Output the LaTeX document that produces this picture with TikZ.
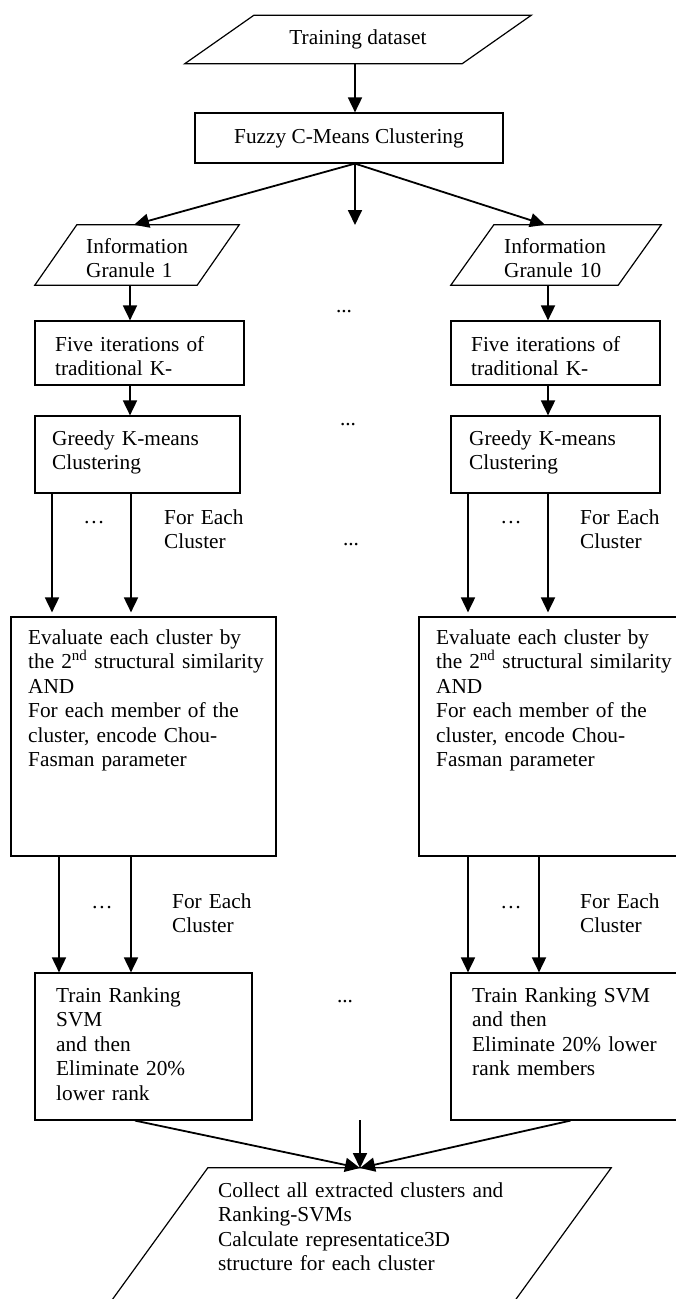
\documentclass[tikz,border=0pt]{standalone}
\usepackage{fontspec}
\setmainfont{Liberation Serif}
\usetikzlibrary{arrows.meta,calc}
\begin{document}
\begin{tikzpicture}[x=1pt,y=-1pt,
  font=\fontsize{21.3}{24.5}\selectfont,
  box/.style={draw, line width=1.2pt, rectangle, inner sep=0pt},
  para/.style={rectangle, inner sep=0pt},
  txt/.style={anchor=base west, align=left, inner sep=0pt, text width=320pt},
  ctr/.style={inner sep=0pt},
  arr/.style={line width=1.8pt, -{Triangle[length=15pt,width=14pt]}},
  ln/.style={line width=1.2pt},
]
\useasboundingbox (0,0) rectangle (676,1299);
\clip (0,0) rectangle (676,1299);

% x positions of connectors
\coordinate (xc) at (355,0);
\coordinate (xa) at (130,0);
\coordinate (xb) at (548,0);
\coordinate (xl1) at (52,0);
\coordinate (xl2) at (131,0);
\coordinate (xr1) at (468,0);
\coordinate (xr2) at (548,0);
\coordinate (xm1) at (59,0);
\coordinate (xm2) at (131,0);
\coordinate (xn1) at (468,0);
\coordinate (xn2) at (539,0);

% Training dataset
\node[para, minimum width=277pt, minimum height=48pt] (td) at (358,39.5) {Training dataset};
\draw[ln] ([xshift=34.5pt]td.north west) -- ([xshift=34.5pt]td.north east)
  -- ([xshift=-34.5pt]td.south east) -- ([xshift=-34.5pt]td.south west) -- cycle;

% Fuzzy C-Means
\node[box, minimum width=308pt, minimum height=50pt] (fcm) at (349,138) {Fuzzy C-Means Clustering};
\draw[arr] (td.south -| xc) -- (fcm.north -| xc);

% Information granules
\node[para, minimum width=162pt, minimum height=60pt] (ig1) at (137,255) {};
\draw[ln] ([xshift=21pt]ig1.north west) -- ([xshift=21pt]ig1.north east)
  -- ([xshift=-21pt]ig1.south east) -- ([xshift=-21pt]ig1.south west) -- cycle;
\node[txt] (ig1t) at (86,253) {Information\\Granule 1};

\node[para, minimum width=167pt, minimum height=60pt] (ig10) at (556,255) {};
\draw[ln] ([xshift=21.5pt]ig10.north west) -- ([xshift=21.5pt]ig10.north east)
  -- ([xshift=-21.5pt]ig10.south east) -- ([xshift=-21.5pt]ig10.south west) -- cycle;
\node[txt] (ig10t) at (504,253) {Information\\Granule 10};

\coordinate (mid) at (355,225);
\draw[arr] (fcm.south -| xc) -- ([xshift=-3pt]ig1.north);
\draw[arr] (fcm.south -| xc) -- (mid);
\draw[arr] (fcm.south -| xc) -- ([xshift=-11pt]ig10.north);

% Five iterations
\node[box, minimum width=209pt, minimum height=64pt] (fl) at (139.5,353) {};
\node[txt] (flt) at (55,351) {Five iterations of\\traditional K-};
\node[box, minimum width=209pt, minimum height=64pt] (fr) at (555.5,353) {};
\node[txt] (frt) at (471,351) {Five iterations of\\traditional K-};
\draw[arr] (ig1.south -| xa) -- (fl.north -| xa);
\draw[arr] (ig10.south -| xb) -- (fr.north -| xb);
\node[ctr] (d1) at (344,312) {...};

% Greedy
\node[box, minimum width=205pt, minimum height=77pt] (gl) at (137.5,454.5) {};
\node[txt] (glt) at (52,445) {Greedy K-means\\Clustering};
\node[box, minimum width=209pt, minimum height=77pt] (gr) at (555.5,454.5) {};
\node[txt] (grt) at (469,445) {Greedy K-means\\Clustering};
\draw[arr] (fl.south -| xa) -- (gl.north -| xa);
\draw[arr] (fr.south -| xb) -- (gr.north -| xb);
\node[ctr] (d2) at (348,425) {...};

% Evaluate
\node[box, minimum width=265pt, minimum height=239pt] (el) at (143.5,736.5) {};
\node[txt] (elt) at (28,644) {Evaluate each cluster by\\the 2\textsuperscript{nd} structural similarity\\AND\\For each member of the\\cluster, encode Chou-\\Fasman parameter};
\node[box, minimum width=265pt, minimum height=239pt] (er) at (551.5,736.5) {};
\node[txt] (ert) at (436,644) {Evaluate each cluster by\\the 2\textsuperscript{nd} structural similarity\\AND\\For each member of the\\cluster, encode Chou-\\Fasman parameter};
\draw[arr, shorten >=4pt] (gl.south -| xl1) -- (el.north -| xl1);
\draw[arr, shorten >=4pt] (gl.south -| xl2) -- (el.north -| xl2);
\draw[arr, shorten >=4pt] (gr.south -| xr1) -- (er.north -| xr1);
\draw[arr, shorten >=4pt] (gr.south -| xr2) -- (er.north -| xr2);
\node[ctr] (e1) at (94,523) {…};
\node[ctr] (e2) at (511,523) {…};
\node[txt] (fe1) at (164,524) {For Each\\Cluster};
\node[txt] (fe2) at (580,524) {For Each\\Cluster};
\node[ctr] (d3) at (351,545) {...};

% Train
\node[box, minimum width=217pt, minimum height=147pt] (tl) at (143.5,1046.5) {};
\node[txt] (tlt) at (56,1002) {Train Ranking\\SVM\\and then\\Eliminate 20\%\\lower rank};
\node[box, minimum width=239pt, minimum height=147pt] (tr) at (570.5,1046.5) {};
\node[txt] (trt) at (472,1002) {Train Ranking SVM\\and then\\Eliminate 20\% lower\\rank members};
\draw[arr] (el.south -| xm1) -- (tl.north -| xm1);
\draw[arr] (el.south -| xm2) -- (tl.north -| xm2);
\draw[arr] (er.south -| xn1) -- (tr.north -| xn1);
\draw[arr] (er.south -| xn2) -- (tr.north -| xn2);
\node[ctr] (e3) at (102,908) {…};
\node[ctr] (e4) at (511,908) {…};
\node[txt] (fe3) at (172,908) {For Each\\Cluster};
\node[txt] (fe4) at (580,908) {For Each\\Cluster};
\node[ctr] (d4) at (345,1002) {...};

% Collect
\node[para, minimum width=403pt, minimum height=150pt] (cp) at (355,1243) {};
\draw[ln] ([xshift=54.5pt]cp.north west) -- ([xshift=54.5pt]cp.north east)
  -- ([xshift=-54.5pt]cp.south east) -- ([xshift=-54.5pt]cp.south west) -- cycle;
\node[txt] (cpt) at (218,1197) {Collect all extracted clusters and\\Ranking-SVMs\\Calculate representatice3D\\structure for each cluster};
\coordinate (cpin) at (360,1168);
\coordinate (ctop) at (360,1120);
\draw[arr] ([xshift=-8.5pt]tl.south) -- (cpin);
\draw[arr] (ctop) -- (cpin);
\draw[arr] (tr.south) -- (cpin);
\end{tikzpicture}
\end{document}
